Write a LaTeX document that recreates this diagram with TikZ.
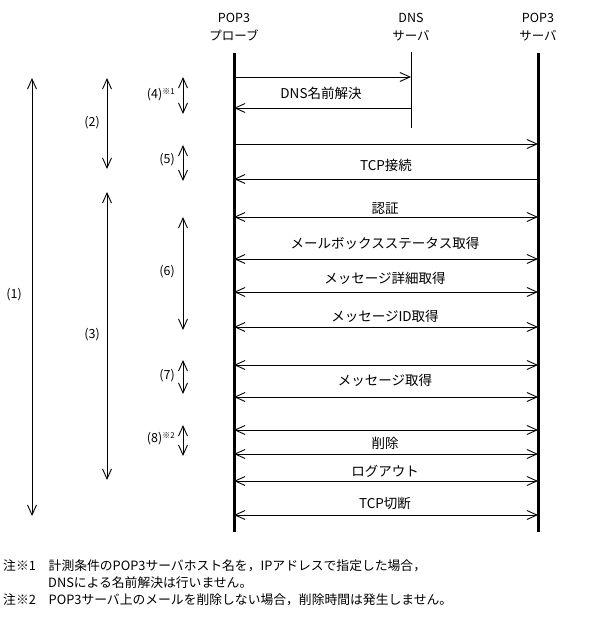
\documentclass[tikz,border=0pt]{standalone}
\usepackage{fontspec}
\setmainfont{Noto Sans CJK JP}
\usetikzlibrary{arrows.meta}

\begin{document}
\begin{tikzpicture}[x=1pt,y=-1pt,>={Straight Barb[length=10pt,width=9pt]},
    font=\fontsize{12.5}{18}\selectfont,
    head/.style={align=center, inner sep=0pt},
    life/.style={line width=3pt},
    msg/.style={line width=0.9pt},
    lbl/.style={inner sep=1pt, font=\fontsize{13.5}{16}\selectfont},
    tag/.style={inner sep=0pt, anchor=east},
    note/.style={inner sep=0pt, anchor=west, font=\fontsize{12.8}{16}\selectfont}]
  \useasboundingbox (0,0) rectangle (588,636);

  % headers
  \node[head] (probe) at (234,27) {POP3\\プローブ};
  \node[head] (dns) at (411,27) {DNS\\サーバ};
  \node[head] (server) at (538,27) {POP3\\サーバ};

  % lifelines
  \coordinate (pt) at (234,53); \coordinate (pb) at (234,532);
  \coordinate (dt) at (411,52); \coordinate (db) at (411,128);
  \coordinate (st) at (538,53); \coordinate (sb) at (538,532);
  \draw[life] (pt) -- (pb);
  \draw[msg] (dt) -- (db);
  \draw[life] (st) -- (sb);

  % messages
  \foreach \n/\y in {1/77,2/108}{
    \coordinate (p\n) at (234,\y);
    \coordinate (d\n) at (411,\y);
  }
  \foreach \n/\y in {3/144,4/179,5/217,6/259,7/292,8/327,9/365,10/397,11/430,12/454,13/481,14/515}{
    \coordinate (p\n) at (234,\y);
    \coordinate (s\n) at (538,\y);
  }
  \draw[msg,->] (p1) -- (d1);
  \draw[msg,<-] (p2) -- (d2);
  \draw[msg,->] (p3) -- (s3);
  \draw[msg,<-] (p4) -- (s4);
  \foreach \n in {5,...,14}
    \draw[msg,<->] (p\n) -- (s\n);

  \node[lbl] (dnsq) at (321,93) {DNS名前解決};
  \node[lbl] (tcpc) at (386,165) {TCP接続};
  \node[lbl] (auth) at (385,209) {認証};
  \node[lbl] (stat) at (385,243) {メールボックスステータス取得};
  \node[lbl] (list) at (385,278) {メッセージ詳細取得};
  \node[lbl] (uidl) at (385,316) {メッセージID取得};
  \node[lbl] (retr) at (385,380) {メッセージ取得};
  \node[lbl] (dele) at (385,443) {削除};
  \node[lbl] (quit) at (385,471) {ログアウト};
  \node[lbl] (tcpd) at (385,503) {TCP切断};

  % spans
  \coordinate (a1) at (32,78);  \coordinate (b1) at (32,516);
  \coordinate (a2) at (107,78); \coordinate (b2) at (107,169);
  \coordinate (a3) at (107,192); \coordinate (b3) at (107,480);
  \coordinate (a4) at (183,77); \coordinate (b4) at (183,114);
  \coordinate (a5) at (183,145); \coordinate (b5) at (183,181);
  \coordinate (a6) at (183,217); \coordinate (b6) at (183,330);
  \coordinate (a7) at (183,360); \coordinate (b7) at (183,394);
  \coordinate (a8) at (183,425); \coordinate (b8) at (183,456);
  \foreach \n in {1,...,8}
    \draw[msg,<->] (a\n) -- (b\n);

  \node[tag] (t1) at (22,295) {(1)};
  \node[tag] (t2) at (100,123) {(2)};
  \node[tag] (t3) at (100,335) {(3)};
  \node[tag] (t4) at (175,95) {(4)\raisebox{4pt}{\fontsize{8}{8}\selectfont ※1}};
  \node[tag] (t5) at (175,160) {(5)};
  \node[tag] (t6) at (175,272) {(6)};
  \node[tag] (t7) at (175,376) {(7)};
  \node[tag] (t8) at (175,439) {(8)\raisebox{4pt}{\fontsize{8}{8}\selectfont ※2}};

  % notes
  \node[note] (n1) at (3,566) {注※1　計測条件のPOP3サーバホスト名を，IPアドレスで指定した場合，};
  \node[note] (n2) at (48,583) {DNSによる名前解決は行いません。};
  \node[note] (n3) at (3,600) {注※2　POP3サーバ上のメールを削除しない場合，削除時間は発生しません。};
\end{tikzpicture}
\end{document}
